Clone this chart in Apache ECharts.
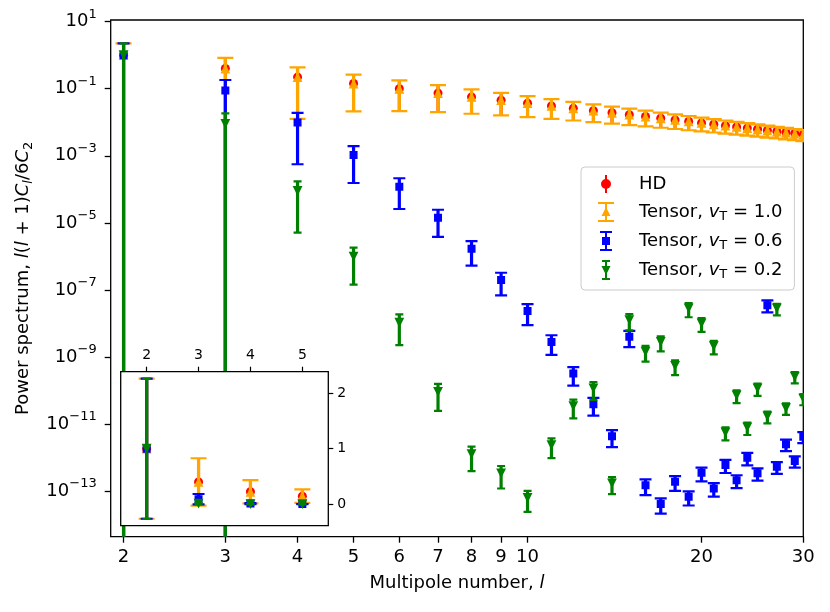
<!DOCTYPE html>
<html>
<head>
<meta charset="utf-8">
<script src="https://cdn.jsdelivr.net/npm/echarts@6/dist/echarts.min.js"></script>
<style>
html, body { margin: 0; padding: 0; background: #fff; }
#chart { width: 830px; height: 612px; }
</style>
</head>
<body>
<div id="chart"></div>
<script>
// multipoles
var ells = [2, 3, 4, 5, 6, 7, 8, 9, 10, 11, 12, 13, 14, 15, 16, 17, 18, 19, 20,
            21, 22, 23, 24, 25, 26, 27, 28, 29, 30];
// l(l+1)C_l / 6C_2
var hdVals = [1, 0.4, 0.2222, 0.1429, 0.1, 0.07407, 0.05714, 0.04545, 0.03704, 0.03077,
              0.02597, 0.02222, 0.01923, 0.01681, 0.01481, 0.01316, 0.01176, 0.01058, 0.00957,
              0.0087, 0.00794, 0.00727, 0.00669, 0.00617, 0.00571, 0.00531, 0.00494, 0.00461, 0.00431];
var tensor10Vals = [1, 0.4, 0.2222, 0.1429, 0.1, 0.07407, 0.05714, 0.04545, 0.03704, 0.03077,
                    0.02597, 0.02222, 0.01923, 0.01681, 0.01481, 0.01316, 0.01176, 0.01058, 0.00957,
                    0.0087, 0.00794, 0.00727, 0.00669, 0.00617, 0.00571, 0.00531, 0.00494, 0.00461, 0.00431];
var tensor06Vals = [1, 8.8e-2, 9.8e-3, 1.05e-3, 1.2e-4, 1.42e-5, 1.69e-6, 1.97e-7, 2.34e-8, 2.8e-9,
                    3.2e-10, 3.9e-11, 4.3e-12, 4.0e-9, 1.5e-13, 4.1e-14, 1.9e-13, 6.8e-14, 3.5e-13,
                    1.2e-13, 6.0e-13, 2.1e-13, 9.8e-13, 3.4e-13, 3.5e-8, 5.3e-13, 2.5e-12, 7.9e-13, 4.2e-12];
var tensor02Vals = [1, 8.9e-3, 8.9e-5, 9.8e-7, 1.05e-8, 9.1e-11, 1.26e-12, 3.4e-13, 6.3e-14, 2.35e-12,
                    3.4e-11, 1.15e-10, 1.7e-13, 1.26e-8, 1.43e-9, 2.8e-9, 5.4e-10, 2.8e-8, 1.0e-8,
                    2.1e-9, 5.6e-12, 7.2e-11, 7.9e-12, 1.15e-10, 1.7e-11, 2.8e-8, 3.0e-11, 2.6e-10, 5.7e-11];
// relative size of the error bars (same for every series)
var relErr = [1.2649, 1.0690, 0.9428, 0.8528, 0.7845, 0.7303, 0.6860, 0.6489, 0.6172, 0.5898,
              0.5657, 0.5443, 0.5252, 0.5080, 0.4924, 0.4781, 0.4650, 0.4529, 0.4417,
              0.4313, 0.4216, 0.4126, 0.4041, 0.3961, 0.3885, 0.3814, 0.3746, 0.3682, 0.3621];

var xTicks = [2, 3, 4, 5, 6, 7, 8, 9, 10, 20, 30];
var yTickExps = [1, -1, -3, -5, -7, -9, -11, -13];
var insetXTicks = [2, 3, 4, 5];
var insetYTicks = [0, 1, 2];

var X_MIN = 1.9, X_MAX = 30;
var Y_MIN_EXP = -14.36, Y_MAX_EXP = 1.05;
var FONT = 'DejaVu Sans';

function logRows(vals) {
    return ells.map(function (l, i) {
        var v = vals[i], f = relErr[i];
        var lo = v * (1 - f);
        return [Math.log10(l), Math.log10(v),
                lo > 0 ? Math.log10(lo) : Y_MIN_EXP - 3,
                Math.log10(v * (1 + f))];
    });
}
function linRows(vals) {
    return ells.map(function (l, i) {
        var v = vals[i], f = relErr[i];
        return [l, v, v * (1 - f), v * (1 + f)];
    });
}

function marker(kind, x, y, color) {
    var s = 4.9;
    if (kind === 'circle') {
        return { type: 'circle', shape: { cx: x, cy: y, r: 4.5 }, style: { fill: color } };
    }
    if (kind === 'square') {
        return { type: 'rect', shape: { x: x - 4, y: y - 4, width: 8, height: 8 }, style: { fill: color } };
    }
    if (kind === 'up') {
        return { type: 'polygon', shape: { points: [[x, y - s], [x + s, y + s], [x - s, y + s]] }, style: { fill: color } };
    }
    return { type: 'polygon', shape: { points: [[x - s, y - s], [x + s, y - s], [x, y + s]] }, style: { fill: color } };
}

function makeRender(st) {
    return function (params, api) {
        var x = api.value(0);
        var p = api.coord([x, api.value(1)]);
        var lo = api.coord([x, api.value(2)]);
        var hi = api.coord([x, api.value(3)]);
        var kids = [{
            type: 'line',
            shape: { x1: p[0], y1: lo[1], x2: p[0], y2: hi[1] },
            style: { stroke: st.color, lineWidth: st.lw }
        }];
        if (st.cap) {
            [lo[1], hi[1]].forEach(function (yy) {
                kids.push({
                    type: 'line',
                    shape: { x1: p[0] - st.cap, y1: yy, x2: p[0] + st.cap, y2: yy },
                    style: { stroke: st.color, lineWidth: 2.2 }
                });
            });
        }
        kids.push(marker(st.marker, p[0], p[1], st.color));
        return { type: 'group', children: kids };
    };
}

var seriesDefs = [
    { name: 'HD', vals: hdVals, color: '#ff0000', marker: 'circle', cap: 0, lw: 3 },
    { name: 'Tensor, vT = 1.0', vals: tensor10Vals, color: '#ffa500', marker: 'up', cap: 8, lw: 3.2 },
    { name: 'Tensor, vT = 0.6', vals: tensor06Vals, color: '#0000ff', marker: 'square', cap: 6, lw: 3.2 },
    { name: 'Tensor, vT = 0.2', vals: tensor02Vals, color: '#008000', marker: 'down', cap: 4, lw: 3.2 }
];

var legendRich = {
    'HD': '{t|HD}',
    'Tensor, vT = 1.0': '{t|Tensor, }{i|v}{sub|T}{t| = 1.0}',
    'Tensor, vT = 0.6': '{t|Tensor, }{i|v}{sub|T}{t| = 0.6}',
    'Tensor, vT = 0.2': '{t|Tensor, }{i|v}{sub|T}{t| = 0.2}'
};

var HEAD = 'M0 0 L0.01 0 M16 20 L15.99 20 ';
var legendIcons = {
    'HD': 'path://' + HEAD + 'M7 1 L9 1 L9 19 L7 19 Z M3 10 A5 5 0 1 1 13 10 A5 5 0 1 1 3 10 Z',
    'Tensor, vT = 1.0': 'path://' + HEAD + 'M0 0 L16 0 L16 2 L0 2 Z M0 18 L16 18 L16 20 L0 20 Z M7 0 L9 0 L9 20 L7 20 Z M8 5 L12.5 14 L3.5 14 Z',
    'Tensor, vT = 0.6': 'path://' + HEAD + 'M2 0 L14 0 L14 2 L2 2 Z M2 18 L14 18 L14 20 L2 20 Z M7 0 L9 0 L9 20 L7 20 Z M4 6 L12 6 L12 14 L4 14 Z',
    'Tensor, vT = 0.2': 'path://' + HEAD + 'M4 0 L12 0 L12 2 L4 2 Z M4 18 L12 18 L12 20 L4 20 Z M7 0 L9 0 L9 20 L7 20 Z M3.5 6 L12.5 6 L8 15 Z'
};

var series = [];
seriesDefs.forEach(function (d) {
    series.push({
        name: d.name, type: 'custom', xAxisIndex: 0, yAxisIndex: 0,
        clip: true, z: 2,
        itemStyle: { color: d.color },
        renderItem: makeRender(d),
        encode: { x: 0, y: 1 },
        data: logRows(d.vals)
    });
});
// inset: same data on linear axes, drawn on an upper layer
seriesDefs.forEach(function (d) {
    series.push({
        name: d.name, type: 'custom', xAxisIndex: 1, yAxisIndex: 1,
        clip: true, zlevel: 1, z: 6,
        itemStyle: { color: d.color },
        renderItem: makeRender(d),
        encode: { x: 0, y: 1 },
        data: linRows(d.vals)
    });
});

var rt = { fontSize: 18, fontFamily: FONT, color: '#000' };
var dom = document.getElementById('chart');
var myChart = echarts.init(dom);
var option = {
    animation: false,
    backgroundColor: '#fff',
    textStyle: { fontFamily: FONT, color: '#000' },
    grid: [
        { left: 110.7, top: 20, width: 692.6, height: 516.7, show: true, borderColor: '#000', borderWidth: 1.3,
          backgroundColor: 'transparent', containLabel: false, outerBoundsMode: 'none' },
        { left: 120.7, top: 371.7, width: 207.6, height: 154, show: true, borderColor: '#000', borderWidth: 1.3,
          backgroundColor: '#fff', containLabel: false, outerBoundsMode: 'none', zlevel: 1, z: 4 }
    ],
    xAxis: [
        {
            type: 'value', gridIndex: 0, position: 'bottom', min: Math.log10(X_MIN), max: Math.log10(X_MAX),
            axisLine: { show: false, onZero: false }, splitLine: { show: false }, minorTick: { show: false },
            axisTick: { show: true, length: 6, lineStyle: { color: '#000', width: 1.3 },
                        customValues: xTicks.map(function (t) { return Math.log10(t); }) },
            axisLabel: { fontSize: 18, fontFamily: FONT, color: '#000', margin: 12,
                         customValues: xTicks.map(function (t) { return Math.log10(t); }),
                         formatter: function (v) { return String(Math.round(Math.pow(10, v))); } },
            name: 'Multipole number, l',
            nameLocation: 'middle', nameGap: 38,
            nameTextStyle: { fontSize: 18, fontFamily: FONT, color: '#000',
                             rich: { t: rt, i: { fontSize: 18, fontFamily: FONT, fontStyle: 'italic', color: '#000' } } }
        },
        {
            type: 'value', gridIndex: 1, position: 'top', min: 1.5, max: 5.5, zlevel: 1, z: 7,
            axisLine: { show: false, onZero: false }, splitLine: { show: false },
            axisTick: { show: true, length: 5, lineStyle: { color: '#000', width: 1.2 }, customValues: insetXTicks },
            axisLabel: { fontSize: 14, fontFamily: FONT, color: '#000', margin: 9, customValues: insetXTicks }
        }
    ],
    yAxis: [
        {
            type: 'value', gridIndex: 0, position: 'left', min: Y_MIN_EXP, max: Y_MAX_EXP,
            axisLine: { show: false, onZero: false }, splitLine: { show: false },
            axisTick: { show: true, length: 6, lineStyle: { color: '#000', width: 1.3 }, customValues: yTickExps },
            axisLabel: {
                margin: 14, customValues: yTickExps,
                formatter: function (v) {
                    var e = v < 0 ? '\u2212' + (-v) : String(v);
                    return '{b|10}{s|' + e + '}';
                },
                rich: {
                    b: { fontSize: 18, fontFamily: FONT, color: '#000' },
                    s: { fontSize: 13, fontFamily: FONT, color: '#000', padding: [0, 0, 14, 0] }
                }
            },
            name: 'P',
            nameLocation: 'middle', nameGap: 76, nameRotate: 90,
            nameTextStyle: {
                rich: {
                    t: rt,
                    i: { fontSize: 18, fontFamily: FONT, fontStyle: 'italic', color: '#000' },
                    si: { fontSize: 13, fontFamily: FONT, fontStyle: 'italic', color: '#000', padding: [9, 0, 0, 0] },
                    sub: { fontSize: 13, fontFamily: FONT, color: '#000', padding: [9, 0, 0, 0] }
                }
            }
        },
        {
            type: 'value', gridIndex: 1, position: 'right', min: -0.39, max: 2.39, zlevel: 1, z: 7,
            axisLine: { show: false, onZero: false }, splitLine: { show: false },
            axisTick: { show: true, length: 5, lineStyle: { color: '#000', width: 1.2 }, customValues: insetYTicks },
            axisLabel: { fontSize: 14, fontFamily: FONT, color: '#000', margin: 9, customValues: insetYTicks }
        }
    ],
    legend: {
        orient: 'vertical', left: 581, top: 167, z: 10,
        padding: [7, 12, 9, 17],
        backgroundColor: 'rgba(255,255,255,0.8)', borderColor: '#cccccc', borderWidth: 1, borderRadius: 4,
        itemWidth: 16, itemHeight: 20, itemGap: 8,
        itemStyle: { borderWidth: 0 },
        selectedMode: false,
        data: seriesDefs.map(function (d) { return { name: d.name, icon: legendIcons[d.name] }; }),
        formatter: function (name) { return legendRich[name]; },
        textStyle: {
            padding: [0, 0, 0, 20],
            rich: {
                t: rt,
                i: { fontSize: 18, fontFamily: FONT, fontStyle: 'italic', color: '#000' },
                sub: { fontSize: 13, fontFamily: FONT, color: '#000', padding: [9, 0, 0, 0] }
            }
        }
    },
    series: series
};
// rich names for the axis titles
option.xAxis[0].name = '{t|Multipole number, }{i|l}';
option.yAxis[0].name = '{t|Power spectrum, }{i|l}{t|(}{i|l}{t| + 1)}{i|C}{si|l}{t|/6}{i|C}{sub|2}';
if (option && typeof option === "object") {
    myChart.setOption(option, true);
}
</script>
</body>
</html>
